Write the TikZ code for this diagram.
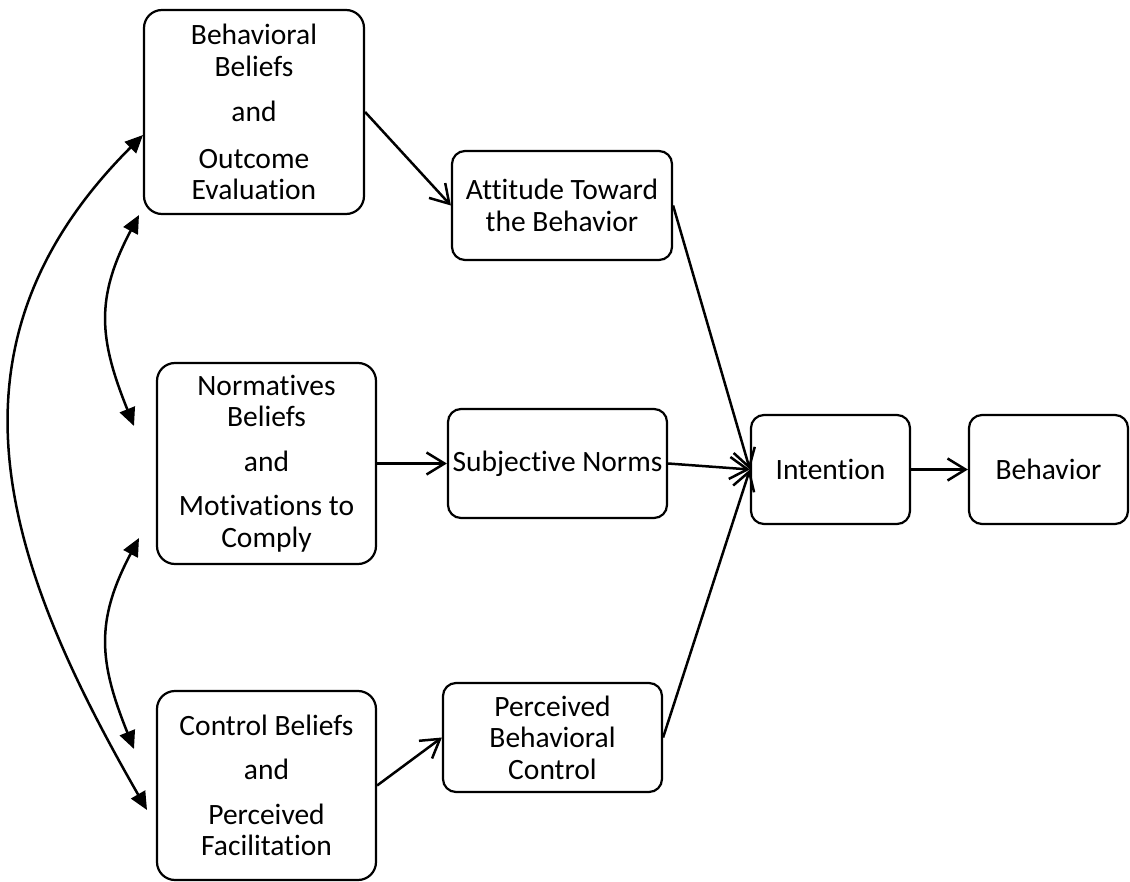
\documentclass[tikz,border=0pt]{standalone}
\usepackage{fontspec}
\setmainfont{Carlito}[Ligatures=NoCommon]
\usetikzlibrary{arrows.meta}
\begin{document}
\begin{tikzpicture}[x=1pt,y=-1pt,
  box/.style={draw, line width=2.2pt, rounded corners=#1, inner sep=0pt,
    align=center, font=\fontsize{29.5}{31.5}\selectfont},
  box/.default=13pt,
  flow/.style={line width=2.5pt,
    -{Straight Barb[length=18pt,width=22pt]}},
  link/.style={line width=2.5pt,
    {Triangle[length=18pt,width=16pt]}-{Triangle[length=18pt,width=16pt]}}]
\useasboundingbox (0,0) rectangle (1130,882);

% belief boxes (left column)
\node[box=18pt, minimum width=220pt, minimum height=204pt] (bb) at (254,112)
  {Behavioral\\Beliefs\\[14pt]and\\[15pt]Outcome\\Evaluation};
\node[box=18pt, minimum width=219pt, minimum height=201pt] (nb) at (266.5,463.5)
  {Normatives\\Beliefs\\[13pt]and\\[13pt]Motivations to\\Comply};
\node[box=18pt, minimum width=219pt, minimum height=189pt] (cb) at (266.5,785.5)
  {Control Beliefs\\[13pt]and\\[13pt]Perceived\\Facilitation};

% constructs (middle column)
\node[box, minimum width=220pt, minimum height=109pt] (att) at (562,205.5)
  {Attitude Toward\\the Behavior};
\node[box, minimum width=219pt, minimum height=109pt] (sn) at (557.5,463.5)
  {Subjective Norms};
\node[box, minimum width=219pt, minimum height=109pt] (pbc) at (552.5,737.5)
  {Perceived\\Behavioral\\Control};

% intention and behavior
\node[box, minimum width=159pt, minimum height=109pt] (int) at (830.5,469.5)
  {Intention};
\node[box, minimum width=159pt, minimum height=109pt] (beh) at (1048.5,469.5)
  {Behavior};

% directed paths
\draw[flow] (bb.east) -- (att.west);
\draw[flow] (nb.east) -- (nb.east -| sn.west);
\draw[flow] (cb.east) -- (pbc.west);
\draw[flow] (att.east) -- (int.west);
\draw[flow] (sn.east) -- (int.west);
\draw[flow] (pbc.east) -- (int.west);
\draw[flow] (int.east) -- (beh.west);

% end points of the correlation arcs
\coordinate (bbA) at (143,135);
\coordinate (bbB) at (139,215);
\coordinate (nbA) at (134,426);
\coordinate (nbB) at (139,538);
\coordinate (cbA) at (134,749);
\coordinate (cbB) at (147,810);

% correlations among belief sets
\draw[link] (bbA) .. controls (-70,348) and (5.5,564) .. (cbB);
\draw[link] (bbB) .. controls (95,298) and (99,339) .. (nbA);
\draw[link] (nbB) .. controls (95,621) and (99,662) .. (cbA);
\end{tikzpicture}
\end{document}
